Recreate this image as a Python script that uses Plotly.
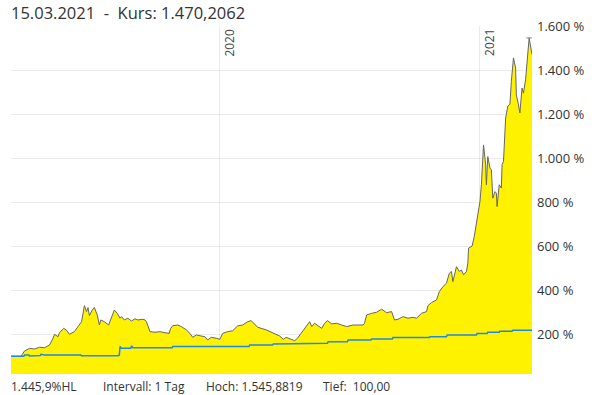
import plotly.graph_objects as go

# Main series (Kurs in %, start = 100)
dates = ["2019-03-15","2019-03-29","2019-04-03","2019-04-10","2019-04-17","2019-04-24","2019-05-01","2019-05-08",
         "2019-05-13","2019-05-15","2019-05-20","2019-05-22","2019-05-28","2019-06-01","2019-06-05","2019-06-12",
         "2019-06-17","2019-06-22","2019-06-26","2019-06-29","2019-07-01","2019-07-03","2019-07-07","2019-07-10",
         "2019-07-14","2019-07-17","2019-07-19","2019-07-24","2019-07-30","2019-08-03","2019-08-07","2019-08-11",
         "2019-08-15","2019-08-17","2019-08-21","2019-08-26","2019-08-31","2019-09-05","2019-09-09","2019-09-16",
         "2019-09-19","2019-09-21","2019-09-26","2019-10-03","2019-10-10","2019-10-17","2019-10-23","2019-10-25",
         "2019-10-28","2019-11-04","2019-11-09","2019-11-16","2019-11-21","2019-11-25","2019-11-30","2019-12-07",
         "2019-12-12","2019-12-16","2019-12-21","2019-12-28","2020-01-02","2020-01-06","2020-01-13","2020-01-20",
         "2020-01-27","2020-02-03","2020-02-10","2020-02-15","2020-02-19","2020-02-24","2020-03-07","2020-03-17",
         "2020-03-26","2020-03-31","2020-04-04","2020-04-11","2020-04-16","2020-04-20","2020-04-25","2020-04-29",
         "2020-05-05","2020-05-07","2020-05-10","2020-05-14","2020-05-19","2020-05-24","2020-05-28","2020-06-01",
         "2020-06-07","2020-06-14","2020-06-21","2020-06-28","2020-07-07","2020-07-21","2020-07-23","2020-07-26",
         "2020-08-02","2020-08-09","2020-08-16","2020-08-23","2020-08-30","2020-09-03","2020-09-08","2020-09-15",
         "2020-09-22","2020-09-29","2020-10-04","2020-10-11","2020-10-18","2020-10-20","2020-10-25","2020-11-01",
         "2020-11-05","2020-11-10","2020-11-15","2020-11-19","2020-11-22","2020-11-24","2020-11-29","2020-12-03",
         "2020-12-06","2020-12-09","2020-12-13","2020-12-15","2020-12-16","2020-12-21","2020-12-24","2020-12-27",
         "2020-12-29","2021-01-01","2021-01-03","2021-01-06","2021-01-09","2021-01-10","2021-01-12","2021-01-15",
         "2021-01-17","2021-01-19","2021-01-22","2021-01-24","2021-01-25","2021-01-28","2021-01-31","2021-02-01",
         "2021-02-03","2021-02-06","2021-02-09","2021-02-12","2021-02-14","2021-02-17","2021-02-20","2021-02-21",
         "2021-02-24","2021-02-26","2021-03-01","2021-03-03","2021-03-06","2021-03-09","2021-03-11","2021-03-15"]
values = [100,100,124,136,133,141,139,151,
          182,200,189,207,227,218,200,212,
          235,257,330,303,321,285,310,321,
          288,242,265,257,242,280,310,295,
          273,280,265,273,260,270,265,268,
          265,257,212,209,212,207,204,227,
          239,242,235,220,204,186,197,192,
          189,174,186,182,177,204,212,216,
          238,242,257,262,250,232,220,204,
          192,177,186,177,171,182,204,227,
          250,257,235,250,238,227,250,262,
          247,250,242,235,242,242,250,288,
          295,300,314,298,303,265,268,280,
          273,277,273,295,303,330,344,356,
          394,416,432,477,485,439,507,485,
          492,470,485,523,591,601,644,697,
          750,803,879,1060,970,879,1007,955,
          947,818,848,841,780,879,864,970,
          985,1182,1235,1245,1348,1455,1409,1288,
          1242,1205,1318,1295,1356,1470,1545.88,1470.21]

# Benchmark series
bench_dates = ["2019-03-15","2019-04-02","2019-04-03","2019-04-09","2019-04-10","2019-04-25","2019-04-26","2019-05-01",
               "2019-06-21","2019-06-22","2019-08-12","2019-08-14","2019-08-15","2019-08-17","2019-08-30","2019-08-31",
               "2019-09-02","2019-10-27","2019-10-28","2020-02-12","2020-02-13","2020-03-16","2020-03-17","2020-04-11",
               "2020-04-12","2020-06-01","2020-06-02","2020-06-29","2020-06-30","2020-08-01","2020-08-02","2020-08-31",
               "2020-09-01","2020-10-22","2020-10-23","2020-11-15","2020-11-16","2020-12-27","2020-12-28","2021-01-11",
               "2021-01-12","2021-01-28","2021-01-29","2021-02-15","2021-02-16","2021-03-15"]
bench_values = [100,100,106,106,101,103,109,106,
                106,102,102,106,144,136,136,147,
                139,139,144,144,151,151,156,156,
                159,159,166,166,174,174,179,179,
                185,185,189,189,197,197,204,204,
                209,209,214,214,218,218]

ytick_vals = [200, 400, 600, 800, 1000, 1200, 1400, 1600]
ytick_text = ["200 %", "400 %", "600 %", "800 %", "1.000 %", "1.200 %", "1.400 %", "1.600 %"]
year_ticks = ["2020-01-01", "2021-01-01"]
year_labels = ["2020", "2021"]

title_text = "15.03.2021  -  Kurs: 1.470,2062"
footer = [("1.445,9%HL", 0.0), ("Intervall: 1 Tag", 0.176), ("Hoch: 1.545,8819", 0.374), ("Tief:  100,00", 0.598)]

FONT = "Open Sans"
fig = go.Figure()
fig.add_trace(go.Scatter(x=dates, y=values, mode="lines", fill="tozeroy",
                         fillcolor="#FFF200", line=dict(color="#666666", width=1),
                         hoverinfo="skip", showlegend=False))
fig.add_trace(go.Scatter(x=bench_dates, y=bench_values, mode="lines",
                         line=dict(color="#1E88E5", width=1.5, shape="linear"),
                         hoverinfo="skip", showlegend=False))

vmax = max(values)
fig.add_shape(type="line", xref="x", yref="y", x0="2021-03-07", x1="2021-03-17",
              y0=vmax, y1=vmax, line=dict(color="#888888", width=1))

for d, lab in zip(year_ticks, year_labels):
    fig.add_annotation(x=d, y=1, xref="x", yref="paper", text=lab, textangle=-90,
                       showarrow=False, xanchor="left", yanchor="top", xshift=-1, yshift=-1,
                       font=dict(family=FONT, size=12, color="#444444"))

fig.add_annotation(x=0, y=1, xref="paper", yref="paper", text=title_text, showarrow=False,
                   xanchor="left", yanchor="bottom", xshift=-2, yshift=0,
                   font=dict(family=FONT, size=16.5, color="#333333"))
for txt, xp in footer:
    fig.add_annotation(x=xp, y=0, xref="paper", yref="paper", text=txt, showarrow=False,
                       xanchor="left", yanchor="top", xshift=-2, yshift=-2,
                       font=dict(family=FONT, size=12, color="#333333"))

fig.update_layout(
    width=595, height=395,
    margin=dict(l=11, r=63, t=26, b=21),
    paper_bgcolor="white", plot_bgcolor="white",
    font=dict(family=FONT, color="#333333"),
    xaxis=dict(range=["2019-03-15", "2021-03-15"], tickvals=year_ticks, ticktext=["", ""],
               showgrid=True, gridcolor="rgba(0,0,0,0.08)", gridwidth=1, zeroline=False,
               showline=False, ticks="", layer="above traces"),
    yaxis=dict(range=[19.5, 1600], side="right", tickvals=ytick_vals, ticktext=ytick_text,
               showgrid=True, gridcolor="rgba(0,0,0,0.08)", gridwidth=1, zeroline=False,
               showline=False, ticks="", ticklabelstandoff=4,
               tickfont=dict(family=FONT, size=13, color="#333333"), layer="above traces"),
)
fig.write_html("out.html")
